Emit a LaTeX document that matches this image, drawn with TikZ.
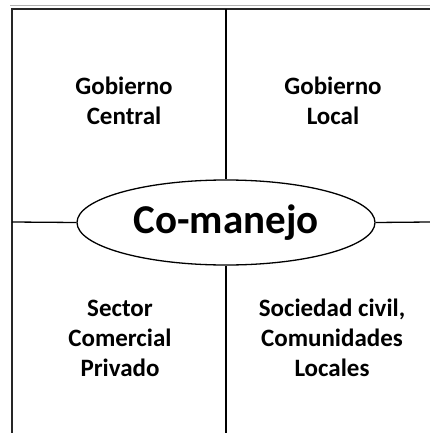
\documentclass[tikz,border=0pt]{standalone}
\usepackage{fontspec}
\setmainfont{Carlito}
\usetikzlibrary{shapes.geometric}
\begin{document}
\begin{tikzpicture}[x=1pt,y=-1pt,
  frame/.style={line width=2pt,black!85},
  inner/.style={line width=1.3pt,black},
  lbl/.style={font=\bfseries\fontsize{25}{30}\selectfont,align=center,inner sep=0pt},
  center/.style={ellipse,draw,line width=1.3pt,minimum width=298pt,minimum height=85pt,inner sep=0pt,font=\bfseries\fontsize{41}{45}\selectfont}]
\useasboundingbox (0,0) rectangle (430,433);
\fill[white] (0,0) rectangle (430,433);
\draw[line width=1pt,black!30] (10,6) -- (430,6);
\coordinate (tl) at (12,9);
\coordinate (tr) at (430,9);
\coordinate (bl) at (12,433);
\coordinate (topmid) at (226,9);
\coordinate (botmid) at (226,433);
\coordinate (leftmid) at (12,222);
\coordinate (rightmid) at (430,222);
\node[center] (cm) at (226,222.5) {Co-manejo};
\draw[frame] (bl) -- (tl) -- (tr);
\draw[inner] (topmid) -- (cm.north);
\draw[inner] (cm.south) -- (botmid);
\draw[inner] (leftmid) -- (cm.west);
\draw[inner] (cm.east) -- (rightmid);
\node[lbl] (gc) at (124,101) {Gobierno\\Central};
\node[lbl] (gl) at (333,101) {Gobierno\\Local};
\node[lbl] (sc) at (120,338) {Sector\\Comercial\\Privado};
\node[lbl] (sl) at (332,338) {Sociedad civil,\\Comunidades\\Locales};
\end{tikzpicture}
\end{document}
